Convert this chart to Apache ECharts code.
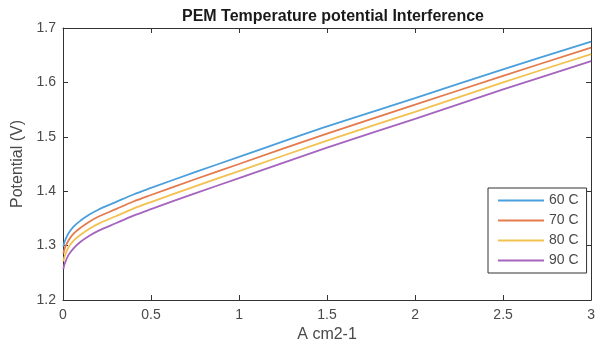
<!DOCTYPE html>
<html>
<head>
<meta charset="utf-8">
<script src="https://cdn.jsdelivr.net/npm/echarts@6/dist/echarts.min.js"></script>
<style>
html,body{margin:0;padding:0;background:#fff;}
#chart{width:598px;height:349px;}
</style>
</head>
<body>
<div id="chart"></div>
<script>
var currentDensity = [0.002, 0.01, 0.03, 0.06, 0.1, 0.15, 0.2, 0.3, 0.4, 0.5, 0.75, 1, 1.5, 2, 2.5, 3];
var v60 = [1.298, 1.308, 1.322, 1.335, 1.346, 1.357, 1.366, 1.380, 1.394, 1.406, 1.435, 1.463, 1.519, 1.571, 1.624, 1.675];
var v70 = [1.285, 1.295, 1.309, 1.322, 1.333, 1.344, 1.353, 1.367, 1.381, 1.393, 1.422, 1.450, 1.506, 1.559, 1.612, 1.664];
var v80 = [1.271, 1.281, 1.296, 1.309, 1.320, 1.331, 1.340, 1.354, 1.368, 1.380, 1.409, 1.437, 1.493, 1.546, 1.600, 1.652];
var v90 = [1.257, 1.267, 1.282, 1.295, 1.307, 1.318, 1.327, 1.341, 1.355, 1.367, 1.396, 1.424, 1.480, 1.533, 1.587, 1.639];
var seriesNames = ['60 C', '70 C', '80 C', '90 C'];
var seriesValues = [v60, v70, v80, v90];
var colors = ['#4a9fdc', '#e57a4c', '#f2c14f', '#a564bd'];

var FONT = 'Liberation Sans, Arial, sans-serif';
var axisColor = '#333333';
var labelColor = '#4a4a4a';

function pairs(vals) {
  return currentDensity.map(function (x, i) { return [x, vals[i]]; });
}

var series = seriesNames.map(function (n, k) {
  return {
    name: n, type: 'line', data: pairs(seriesValues[k]),
    showSymbol: false, symbol: 'none', smooth: 0.35,
    lineStyle: { width: 1.8, color: colors[k] }, itemStyle: { color: colors[k] },
    xAxisIndex: 0, yAxisIndex: 0
  };
});

var chart = echarts.init(document.getElementById('chart'), null, { renderer: 'canvas' });
chart.setOption({
  animation: false,
  backgroundColor: '#ffffff',
  title: {
    text: 'PEM Temperature potential Interference',
    left: 328, top: 4, textAlign: 'center',
    textStyle: { fontFamily: FONT, fontSize: 16, fontWeight: 'bold', color: '#1a1a1a' }
  },
  grid: { left: 63, right: 1, top: 28, bottom: 49, containLabel: false },
  legend: {
    orient: 'vertical', left: 488, top: 188,
    data: seriesNames,
    icon: 'rect', itemWidth: 46, itemHeight: 2, itemGap: 5,
    backgroundColor: '#ffffff', borderColor: '#333333', borderWidth: 1,
    padding: [5, 8, 5, 10],
    textStyle: { fontFamily: FONT, fontSize: 14, color: labelColor, lineHeight: 15 }
  },
  xAxis: [{
    type: 'value', min: 0, max: 3, interval: 0.5, position: 'bottom',
    name: 'A cm2-1', nameLocation: 'middle', nameGap: 26,
    nameTextStyle: { fontFamily: FONT, fontSize: 16, color: labelColor },
    axisLine: { show: true, lineStyle: { color: axisColor, width: 1 } },
    axisTick: { show: true, inside: true, length: 5, lineStyle: { color: axisColor } },
    axisLabel: { fontFamily: FONT, fontSize: 14, color: labelColor, margin: 8 },
    splitLine: { show: false }
  }, {
    type: 'value', min: 0, max: 3, interval: 0.5, position: 'top',
    axisLine: { show: true, onZero: false, lineStyle: { color: axisColor, width: 1 } },
    axisTick: { show: true, inside: true, length: 5, lineStyle: { color: axisColor } },
    axisLabel: { show: false }, splitLine: { show: false }
  }],
  yAxis: [{
    type: 'value', min: 1.2, max: 1.7, interval: 0.1, position: 'left',
    name: 'Potential (V)', nameLocation: 'middle', nameGap: 35,
    nameTextStyle: { fontFamily: FONT, fontSize: 16, color: labelColor },
    axisLine: { show: true, lineStyle: { color: axisColor, width: 1 } },
    axisTick: { show: true, inside: true, length: 5, lineStyle: { color: axisColor } },
    axisLabel: { fontFamily: FONT, fontSize: 14, color: labelColor, margin: 7,
      formatter: function (v) { return v.toFixed(1); } },
    splitLine: { show: false }
  }, {
    type: 'value', min: 1.2, max: 1.7, interval: 0.1, position: 'right',
    axisLine: { show: true, onZero: false, lineStyle: { color: axisColor, width: 1 } },
    axisTick: { show: true, inside: true, length: 5, lineStyle: { color: axisColor } },
    axisLabel: { show: false }, splitLine: { show: false }
  }],
  series: series
});
</script>
</body>
</html>
